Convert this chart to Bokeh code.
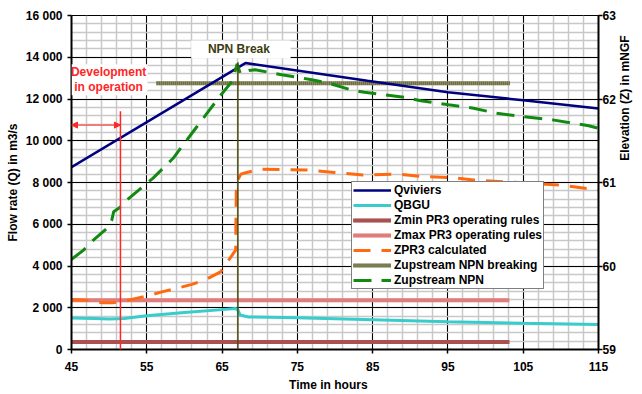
import math
from bokeh.plotting import figure
from bokeh.models import (Range1d, LinearAxis, FixedTicker, Legend, LegendItem,
                          Label, BoxAnnotation, Arrow, NormalHead)
from bokeh.embed import file_html
from bokeh.resources import INLINE

# ---------------- data ----------------
x_ticks = [45, 55, 65, 75, 85, 95, 105, 115]
q_ticks = [0, 2000, 4000, 6000, 8000, 10000, 12000, 14000, 16000]
q_tick_labels = ["0", "2 000", "4 000", "6 000", "8 000", "10 000", "12 000", "14 000", "16 000"]
z_ticks = [59, 60, 61, 62, 63]

qviviers_h = [45, 68.1, 84.3, 95, 105, 115]
qviviers_q = [8740, 13720, 12870, 12320, 11940, 11550]

qbgu_h = [45, 48, 50, 52, 55, 60, 65, 66.8, 67.1, 67.4, 68.5, 75, 85, 95, 105, 115]
qbgu_q = [1510, 1490, 1460, 1480, 1620, 1770, 1910, 1960, 1900, 1650, 1560, 1515, 1430, 1330, 1260, 1200]

zmin_h = [45, 103.2]
zmin_z = [59.09, 59.09]
zmax_h = [45, 103.2]
zmax_z = [59.59, 59.59]
zbreak_h = [56.3, 103.2]
zbreak_z = [62.19, 62.19]

zpr3_h = [45, 47, 49, 50.5, 51.5, 53, 55, 57, 59.3, 61, 62.9, 64.8, 66.8, 66.9,
          67.5, 67.9, 70.1, 76.2, 79.9, 83.7, 88.3, 91.8, 95.3, 98.4, 102.3, 106.3,
          109.8, 114.2, 115]
zpr3_z = [59.60, 59.59, 59.56, 59.56, 59.57, 59.60, 59.64, 59.69, 59.74, 59.78, 59.84,
          59.93, 60.19, 61.00, 61.10, 61.11, 61.16, 61.15, 61.12, 61.09, 61.10, 61.07,
          61.06, 61.03, 61.01, 60.99, 60.97, 60.92, 60.91]

zup_h = [45, 46.6, 47.9, 49.7, 50.35, 50.6, 51.7, 52.5, 55.8, 58.5, 61.5, 64.6, 66.4,
         67.0, 67.45, 68.55, 69.4, 71.2, 72.9, 75.1, 76.9, 79.1, 82.1, 83.9, 89.2, 91.4,
         95.1, 98.4, 101.4, 104.9, 108.9, 113.7, 115]
zup_z = [60.08, 60.19, 60.31, 60.45, 60.55, 60.65, 60.72, 60.80, 61.05, 61.29, 61.65,
         62.02, 62.22, 62.42, 62.30, 62.34, 62.35, 62.32, 62.29, 62.26, 62.23, 62.19,
         62.11, 62.08, 62.02, 61.98, 61.93, 61.89, 61.83, 61.79, 61.75, 61.68, 61.65]

t1 = 51.5
t2 = 67.1
t1_label_x = 52.1
t2_label_x = 67.3
t1_top_q = 11415
t2_top_q = 13755
dev_arrow_q = 10750
right_title_q = 9040

FONT = "Liberation Sans"
RED = "#ff2626"
OLIVE = "#3c3c10"
NB = "\u00a0"

# ---------------- figure ----------------
p = figure(width=642, height=394, x_range=Range1d(45, 115), y_range=Range1d(0, 16000),
           output_backend="svg", toolbar_location=None,
           min_border_left=71, min_border_right=39, min_border_top=15, min_border_bottom=44)
p.background_fill_color = "white"
p.border_fill_color = "white"
p.outline_line_color = "black"
p.outline_line_width = 1
p.extra_y_ranges = {"z": Range1d(59, 63)}

xt = FixedTicker(ticks=x_ticks, minor_ticks=[h for h in range(45, 116, 2)])
yt = FixedTicker(ticks=q_ticks, minor_ticks=[q for q in range(0, 16001, 400)])

xa = p.xaxis[0]
xa.ticker = xt
ya = p.yaxis[0]
ya.ticker = yt
ya.major_label_overrides = {q: lab for q, lab in zip(q_ticks, q_tick_labels)}

za = LinearAxis(y_range_name="z", ticker=FixedTicker(ticks=z_ticks))
p.add_layout(za, "right")

for ax in (xa, ya, za):
    ax.axis_line_color = "black"
    ax.axis_line_width = 2
    ax.major_tick_line_color = "black"
    ax.major_tick_line_width = 1.5
    ax.major_tick_out = 4
    ax.major_tick_in = 0
    ax.minor_tick_line_color = None
    ax.major_label_text_font = FONT
    ax.major_label_text_font_size = "12px"
    ax.major_label_text_font_style = "bold"
    ax.major_label_text_color = "black"
    ax.axis_label_text_font = FONT
    ax.axis_label_text_font_size = "12px"
    ax.axis_label_text_font_style = "bold"
    ax.axis_label_text_color = "black"

xa.major_label_standoff = 8
xa.axis_label = "Time in hours" + NB * 4
xa.axis_label_standoff = 4
ya.major_label_standoff = 5
ya.axis_label = "Flow rate (Q) in m3/s"
ya.axis_label_standoff = 3
za.major_label_standoff = 0

# right-hand title, reading bottom-to-top: a single rotated tick label on a
# second right-hand axis stacked outside the elevation axis
title_axis = LinearAxis(ticker=FixedTicker(ticks=[right_title_q]),
                        axis_line_color=None, major_tick_line_color=None,
                        minor_tick_line_color=None, major_tick_out=0, major_tick_in=0,
                        major_label_overrides={right_title_q: "Elevation (Z) in mNGF"},
                        major_label_orientation=math.pi / 2, major_label_standoff=7,
                        major_label_text_font=FONT, major_label_text_font_size="12px",
                        major_label_text_font_style="bold", major_label_text_color="black")
p.add_layout(title_axis, "right")

for g, t in ((p.xgrid[0], xt), (p.ygrid[0], yt)):
    g.ticker = t
    g.grid_line_color = "black"
    g.grid_line_width = 1
    g.minor_grid_line_color = "#c8c8c8"
    g.minor_grid_line_width = 1.5

# t1 / t2 markers below the axis (axes pinned at y=0, no layout space)
def marker_axis(tick, color, tick_out, label, label_x):
    a = LinearAxis(ticker=FixedTicker(ticks=[tick]), fixed_location=0,
                   axis_line_color=None, minor_tick_line_color=None,
                   major_tick_line_color=color, major_tick_line_width=1.5,
                   major_tick_out=tick_out, major_tick_in=0,
                   major_label_text_color=None)
    p.add_layout(a, "below")
    b = LinearAxis(ticker=FixedTicker(ticks=[label_x]), fixed_location=0,
                   axis_line_color=None, minor_tick_line_color=None,
                   major_tick_line_color=None, major_tick_out=0, major_tick_in=0,
                   major_label_overrides={label_x: label},
                   major_label_text_color=color, major_label_text_font=FONT,
                   major_label_text_font_size="12px", major_label_text_font_style="bold",
                   major_label_standoff=12)
    p.add_layout(b, "below")

marker_axis(t1, RED, 10, "t1", t1_label_x)
marker_axis(t2, OLIVE, 13, "t2", t2_label_x)

# ---------------- series ----------------
def checker(h, z, base, dark, width=4):
    r1 = p.line(h, z, y_range_name="z", line_color=base, line_width=width)
    r2 = p.line(h, z, y_range_name="z", line_color=dark, line_width=width, line_dash="1 1")
    return [r1, r2]

r_zmin = checker(zmin_h, zmin_z, "#d8a0a0", "#7a0000")
r_zmax = checker(zmax_h, zmax_z, "#f6c8c8", "#cc3030")
r_zbrk = checker(zbreak_h, zbreak_z, "#d8d8a8", "#202000")

r_zpr3 = p.line(zpr3_h, zpr3_z, y_range_name="z", line_color="#ff6a10", line_width=3,
                line_dash="17 11")
r_qbgu = p.line(qbgu_h, qbgu_q, line_color="#38cccc", line_width=3)
r_qviv = p.line(qviviers_h, qviviers_q, line_color="#000080", line_width=2.5)
r_zup = p.line(zup_h, zup_z, y_range_name="z", line_color="#128a12", line_width=3,
               line_dash="18 10")

# ---------------- annotations ----------------
p.add_layout(Arrow(end=None, x_start=t1, y_start=t1_top_q, x_end=t1, y_end=0,
                   line_color=RED, line_width=1.5))
p.add_layout(Arrow(end=None, x_start=t2, y_start=t2_top_q, x_end=t2, y_end=0,
                   line_color="#4a4a10", line_width=1.5))
p.add_layout(Arrow(start=NormalHead(size=6, fill_color=RED, line_color=RED),
                   end=NormalHead(size=6, fill_color=RED, line_color=RED),
                   x_start=45, y_start=dev_arrow_q, x_end=t1, y_end=dev_arrow_q,
                   line_color=RED, line_width=1))

p.add_layout(BoxAnnotation(left=45, right=55.1, bottom=12180, top=13660,
                           fill_color="white", fill_alpha=1, line_color=None))
p.add_layout(BoxAnnotation(left=60.9, right=74.1, bottom=13950, top=14800,
                           fill_color="white", fill_alpha=1, line_color=None))

def lab(x, y, text, color):
    p.add_layout(Label(x=x, y=y, text=text, text_align="center", text_baseline="middle",
                       text_font=FONT, text_font_size="12px", text_font_style="bold",
                       text_color=color))

lab(49.93, 13290, "Development", RED)
lab(49.93, 12575, "in operation", RED)
lab(67.24, 14380, "NPN Break", OLIVE)

# ---------------- legend ----------------
legend = Legend(items=[
    LegendItem(label="Qviviers", renderers=[r_qviv]),
    LegendItem(label="QBGU", renderers=[r_qbgu]),
    LegendItem(label="Zmin PR3 operating rules", renderers=r_zmin),
    LegendItem(label="Zmax PR3 operating rules", renderers=r_zmax),
    LegendItem(label="ZPR3 calculated", renderers=[r_zpr3]),
    LegendItem(label="Zupstream NPN breaking", renderers=r_zbrk),
    LegendItem(label="Zupstream NPN", renderers=[r_zup]),
], location=(280, 60), orientation="vertical",
    border_line_color="black", border_line_width=1.5,
    background_fill_color="white", background_fill_alpha=1,
    label_text_font=FONT, label_text_font_size="12px", label_text_font_style="bold",
    label_text_color="black",
    glyph_width=38, glyph_height=14, label_height=14, spacing=1, padding=1, margin=0,
    label_standoff=3)
p.add_layout(legend)

open("out.html", "w").write(file_html(p, INLINE))
